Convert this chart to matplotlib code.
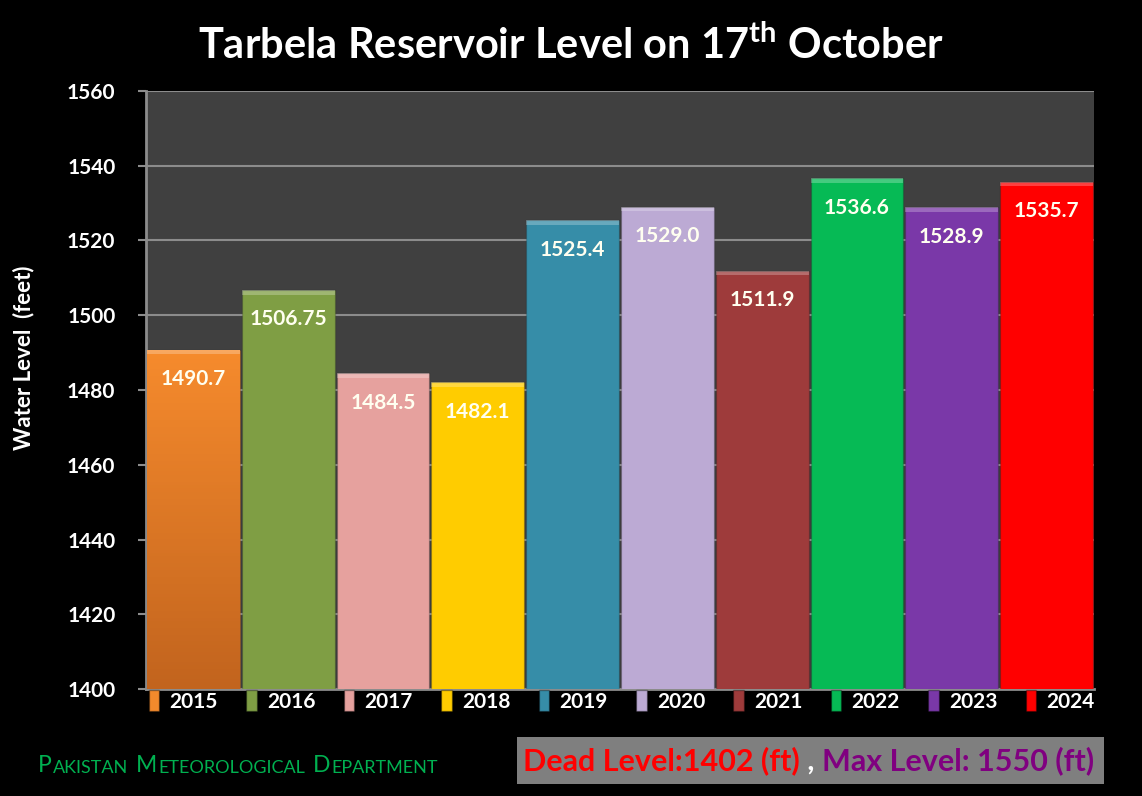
import matplotlib
matplotlib.use('Agg')
from matplotlib import pyplot as plt
from matplotlib.patches import Rectangle
from matplotlib.text import Annotation
import numpy as np

plt.rcParams['font.family'] = ['Lato', 'DejaVu Sans']
plt.rcParams['mathtext.fontset'] = 'custom'
plt.rcParams['mathtext.rm'] = 'Lato:bold'

years = ['2015', '2016', '2017', '2018', '2019', '2020', '2021', '2022', '2023', '2024']
levels = [1490.7, 1506.75, 1484.5, 1482.1, 1525.4, 1529.0, 1511.9, 1536.6, 1528.9, 1535.7]
level_labels = ['1490.7', '1506.75', '1484.5', '1482.1', '1525.4', '1529.0', '1511.9', '1536.6', '1528.9', '1535.7']
yticks = [1400, 1420, 1440, 1460, 1480, 1500, 1520, 1540, 1560]

colors = ['#F38A2C', '#7F9E44', '#E6A19E', '#FFCC00', '#368DA8',
          '#BCAAD4', '#9E3B3B', '#06BA55', '#7A38A8', '#FF0000']

fig = plt.figure(figsize=(11.42, 7.96), dpi=100, facecolor='black')
ax = fig.add_axes([0.1278, 0.1344, 0.8302, 0.7513])
ax.set_facecolor('#404040')

x = list(range(len(years)))
bars = ax.bar(x, levels, width=0.98, bottom=0, color=colors, zorder=3,
              edgecolor=[(0, 0, 0, 0.15)] * len(colors), linewidth=1)
for b, c in zip(bars, colors):
    # lighter bevel strip on top
    ax.add_patch(Rectangle((b.get_x(), b.get_height() - 1.2), b.get_width(), 1.2,
                           facecolor='white', alpha=0.25, zorder=4, linewidth=0))

# orange bar fades darker toward the bottom
b0 = bars[0]
grad = np.linspace(0, 1, 100).reshape(-1, 1)
cm = matplotlib.colors.LinearSegmentedColormap.from_list('og', ['#C2641E', '#F68B2D'])
im = ax.imshow(grad, cmap=cm, aspect='auto', zorder=3.5,
               extent=(b0.get_x(), b0.get_x() + b0.get_width(), b0.get_height(), 1400),
               origin='upper')
im.set_clip_path(b0)

for xi, v, lab in zip(x, levels, level_labels):
    ax.annotate(lab, (xi, v), xytext=(0, -14), textcoords='offset points',
                ha='center', va='top', color='#FFFFF0', fontsize=15,
                fontweight='bold', zorder=5)

ax.set_ylim(1400, 1560)
ax.set_xlim(-0.5, 9.5)
ax.set_yticks(yticks)
ax.set_xticks([])
ax.yaxis.grid(True, color='#8C8C8C', linewidth=1.5, zorder=0)
ax.set_axisbelow(True)
for s in ['top', 'right']:
    ax.spines[s].set_visible(False)
for s in ['left', 'bottom']:
    ax.spines[s].set_color('#8C8C8C')
    ax.spines[s].set_linewidth(2)
ax.tick_params(axis='y', colors='#8C8C8C', length=6, width=1.5, labelcolor='white',
               labelsize=15, pad=16)
for t in ax.get_yticklabels():
    t.set_fontweight('bold')

fig.text(0.021, 0.551, 'Water Level  (feet)', rotation=90, ha='center', va='center',
         color='white', fontsize=16, fontweight='bold')

fig.text(0.5, 0.943, r'Tarbela Reservoir Level on 17$^{\mathrm{th}}$ October',
         ha='center', va='center', color='white', fontsize=30, fontweight='bold')

handles = [Rectangle((0, 0), 1, 1, facecolor=c, edgecolor=(0, 0, 0, 0.3)) for c in colors]
leg = ax.legend(handles, years, loc='upper left', bbox_to_anchor=(0.002, 0.0, 1, 0),
                mode='expand', ncol=10, frameon=False, handlelength=0.5,
                handleheight=1.2, handletextpad=0.5, borderaxespad=0.0, borderpad=0.05,
                prop={'size': 15, 'weight': 'bold'})
for t in leg.get_texts():
    t.set_color('white')


def chain(prev, s, dx=0, **kw):
    a = Annotation(s, xy=(1, 0), xycoords=prev, xytext=(dx, 0), textcoords='offset points',
                   ha='left', va='bottom', annotation_clip=False, **kw)
    fig.add_artist(a)
    return a


# small caps footer
green = '#00B050'
words = [('P', 'AKISTAN'), ('M', 'ETEOROLOGICAL'), ('D', 'EPARTMENT')]
prev = None
for big, small in words:
    if prev is None:
        prev = fig.text(38 / 1142, 1 - 776 / 796, big, color=green, fontsize=16.5,
                        ha='left', va='bottom')
    else:
        prev = chain(prev, big, dx=6, color=green, fontsize=16.5)
    prev = chain(prev, small, dx=0.5, color=green, fontsize=13)

fig.patches.append(Rectangle((517 / 1142, 1 - 784 / 796), 587 / 1142, 47 / 796,
                             transform=fig.transFigure, facecolor='#7F7F7F',
                             edgecolor='none', zorder=1))
t1 = fig.text(523 / 1142, 1 - 775 / 796, 'Dead Level:1402 (ft)', color='#FF0000',
              fontsize=22, fontweight='bold', ha='left', va='bottom', zorder=3)
t2 = chain(t1, ' , ', color='white', fontsize=22, fontweight='bold', zorder=3)
chain(t2, 'Max Level: 1550 (ft)', color='#800080', fontsize=22, fontweight='bold', zorder=3)

fig.savefig('out.png', dpi=100, facecolor='black')
